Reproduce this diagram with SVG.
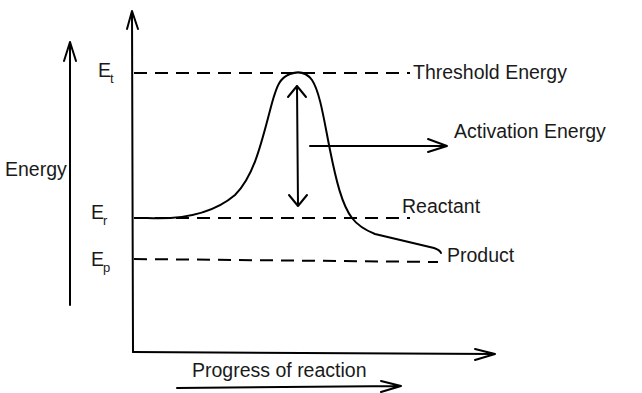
<svg xmlns="http://www.w3.org/2000/svg" width="642" height="393" viewBox="0 0 642 393">
<style>
.ln{fill:none;stroke:#000;stroke-width:2;stroke-linecap:round;stroke-linejoin:round}
.ds{fill:none;stroke:#000;stroke-width:2;stroke-dasharray:13 8}
.t{font-family:"Liberation Sans",Arial,sans-serif;font-size:19.5px;fill:#1a1a1a}
.s{font-family:"Liberation Sans",Arial,sans-serif;font-size:13px;fill:#1a1a1a}
</style>
<rect width="642" height="393" fill="#fff"/>
<g id="connectors">
<path class="ln" d="M70,305 L70,42 M64,61 L70,42 L76,61"/>
<path class="ln" d="M133,352 L132,11 M127,29 L132,11 L138,29"/>
<path class="ln" d="M133,352 L495,354 M475,349 L495,354 L475,360"/>
<path class="ln" d="M177,388 L401,386 M381,381 L401,386 L381,392"/>
<path class="ds" d="M134,73 L410,73"/>
<path class="ds" d="M134,218 L410,218"/>
<path class="ds" d="M134,259 L438,262"/>
<path class="ln" d="M147,218 C185,220 215,212 235,195 C255,175 262,140 272,103 C277,85 280,78 290,74 C298,71 306,72 312,80 C320,92 324,120 330,150 C336,180 342,205 352,218 C358,226 365,230 375,234 L434,248 Q440,250 441,253"/>
<path class="ln" d="M297,86 L298,206 M288,97 L297,86 L306,97 M289,195 L298,206 L307,195"/>
<path class="ln" d="M310,146 L447,146 M428,139 L447,146 L428,152"/>
</g>
<g id="energy"><text class="t" x="5" y="176">Energy</text></g>
<g id="Et"><text class="t" x="98" y="77">E</text><text class="s" x="110" y="83">t</text></g>
<g id="Er"><text class="t" x="91" y="219">E</text><text class="s" x="103" y="225">r</text></g>
<g id="Ep"><text class="t" x="91" y="266">E</text><text class="s" x="103" y="272">p</text></g>
<g id="threshold"><text class="t" x="413" y="79">Threshold Energy</text></g>
<g id="activation"><text class="t" x="454" y="138">Activation Energy</text></g>
<g id="reactant"><text class="t" x="402" y="213">Reactant</text></g>
<g id="product"><text class="t" x="447" y="262">Product</text></g>
<g id="progress"><text class="t" x="192" y="377">Progress of reaction</text></g>
</svg>
